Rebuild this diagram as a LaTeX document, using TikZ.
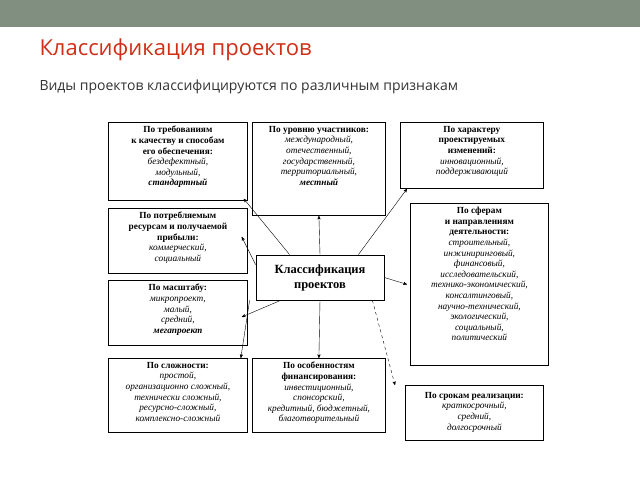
\documentclass[tikz,border=0pt]{standalone}
\usepackage{fontspec}
\setmainfont{Liberation Serif}
\newfontfamily\slidefont{Open Sans}
\usetikzlibrary{calc}
\usetikzlibrary{arrows}

\begin{document}
\begin{tikzpicture}[x=1pt,y=-1pt,
    frame/.style={draw,thick,anchor=north west,inner sep=0pt},
    label/.style={anchor=north,align=center,inner sep=4pt,
        font=\fontsize{9.3}{10.6}\selectfont},
    link/.style={->,>=stealth',thin}]
    \useasboundingbox (0,0) rectangle (640,480);
    \fill[white] (0,0) rectangle (640,480);
    \fill[black!40!green!10!gray!90] (0,0) rectangle (640,27);

    \node[anchor=west,text=red!60!brown!90!black,font=\slidefont\fontsize{22}{26}\selectfont] (title) at (36,50) {Классификация проектов};
    \node[anchor=west,text=black!80,font=\slidefont\fontsize{14}{16}\selectfont] (sub) at (36,87) {Виды проектов классифицируются по различным признакам};

    % frames
    \node[frame,minimum width=139,minimum height=78] (req) at (108,122) {};
    \node[frame,minimum width=133,minimum height=93] (lvl) at (252,122) {};
    \node[frame,minimum width=143,minimum height=66] (chg) at (400,122) {};
    \node[frame,minimum width=139,minimum height=65] (res) at (108,208) {};
    \node[frame,minimum width=139,minimum height=65] (scl) at (108,280) {};
    \node[frame,minimum width=138,minimum height=162] (sph) at (410,203) {};
    \node[frame,minimum width=139,minimum height=74] (cpx) at (108,358) {};
    \node[frame,minimum width=133,minimum height=74] (fin) at (252,358) {};
    \node[frame,minimum width=138,minimum height=55] (trm) at (405,385) {};

    % texts
    \node[label] (reqt) at (req.north)
        {\textbf{По требованиям}\\\textbf{к качеству и способам}\\\textbf{его обеспечения:}\\\textit{бездефектный,}\\\textit{модульный,}\\\textit{\textbf{стандартный}}};
    \node[label] (lvlt) at (lvl.north)
        {\textbf{По уровню участников:}\\\textit{международный,}\\\textit{отечественный,}\\\textit{государственный,}\\\textit{территориальный,}\\\textit{\textbf{местный}}};
    \node[label] (chgt) at (chg.north)
        {\textbf{По характеру}\\\textbf{проектируемых}\\\textbf{изменений:}\\\textit{инновационный,}\\\textit{поддерживающий}};
    \node[label] (rest) at (res.north)
        {\textbf{По потребляемым}\\\textbf{ресурсам и получаемой}\\\textbf{прибыли:}\\\textit{коммерческий,}\\\textit{социальный}};
    \node[label] (sclt) at (scl.north)
        {\textbf{По масштабу:}\\\textit{микропроект,}\\\textit{малый,}\\\textit{средний,}\\\textit{\textbf{мегапроект}}};
    \node[label] (spht) at (sph.north)
        {\textbf{По сферам}\\\textbf{и направлениям}\\\textbf{деятельности:}\\\textit{строительный,}\\\textit{инжиниринговый,}\\\textit{финансовый,}\\\textit{исследовательский,}\\\textit{технико-экономический,}\\\textit{консалтинговый,}\\\textit{научно-технический,}\\\textit{экологический,}\\\textit{социальный,}\\\textit{политический}};
    \node[label] (cpxt) at (cpx.north)
        {\textbf{По сложности:}\\\textit{простой,}\\\textit{организационно сложный,}\\\textit{технически сложный,}\\\textit{ресурсно-сложный,}\\\textit{комплексно-сложный}};
    \node[label] (fint) at (fin.north)
        {\textbf{По особенностям}\\\textbf{финансирования:}\\\textit{инвестиционный,}\\\textit{спонсорский,}\\\textit{кредитный, бюджетный,}\\\textit{благотворительный}};
    \node[label] (trmt) at ($(trm.north)+(0,3)$)
        {\textbf{По срокам реализации:}\\\textit{краткосрочный,}\\\textit{средний,}\\\textit{долгосрочный}};

    \node[draw,thick,minimum width=128,minimum height=45,align=center,
        font=\bfseries\fontsize{12.5}{15}\selectfont] (cls) at (320,277.5) {Классификация\\проектов};

    \draw[link] ($(cls.north west)+(34,0)$) -- ($(req.south east)+(-4,-2)$);
    \draw[link] (cls.north) -- (lvl.south);
    \draw[link] ($(cls.north east)+(-26,0)$) -- ($(chg.south west)+(7,0)$);
    \draw[link] ($(cls.north west)+(0,10)$) -- ($(res.east)+(-6,-4)$);
    \draw[link] ($(cls.south west)+(25,0)$) -- ($(scl.east)+(-6,4)$);
    \draw[link] (cls.east) -- ($(sph.west)+(-3,0)$);
    \draw[link] ($(cls.south west)+(-6,0)$) -- ($(cpx.north east)+(-7,0)$);
    \draw[link] (cls.south) -- (fin.north);
    \draw[link,dashed] ($(cls.south east)+(-12,0)$) -- ($(trm.north west)+(-10,0)$);
\end{tikzpicture}
\end{document}
